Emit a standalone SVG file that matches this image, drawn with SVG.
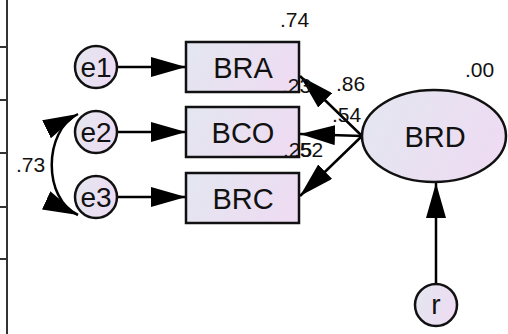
<svg xmlns="http://www.w3.org/2000/svg" width="508" height="334" viewBox="0 0 508 334">
<defs>
<linearGradient id="g" x1="0" y1="0" x2="1" y2="0.3">
<stop offset="0" stop-color="#e3e7f0"/>
<stop offset="1" stop-color="#eddcf2"/>
</linearGradient>
<marker id="ah" viewBox="0 0 35 20" refX="35" refY="10" markerWidth="35" markerHeight="20" markerUnits="userSpaceOnUse" orient="auto-start-reverse">
<path d="M0,0 L35,10 L0,20 z" fill="#000"/>
</marker>
<style>
.n{fill:url(#g);stroke:#111;stroke-width:2.5}
.t{font-family:"Liberation Sans",Arial,sans-serif;fill:#111;text-anchor:middle}
.big{font-size:29px}
.e{font-size:28px}
.l{font-family:"Liberation Sans",Arial,sans-serif;font-size:21px;fill:#111}
.c{stroke:#000;stroke-width:2.5;fill:none;marker-end:url(#ah)}
.frame{stroke:#333;stroke-width:2;fill:none}
</style>
</defs>
<g id="frame">
<path class="frame" d="M7 0 V334 M0 47 H7 M0 100 H7 M0 153 H7 M0 207 H7 M0 259 H7"/>
</g>
<g id="connectors">
<path class="c" d="M117 67 L186 67"/>
<path class="c" d="M117 132 L186 132"/>
<path class="c" d="M117 197 L186 197"/>
<path class="c" d="M362 136 L300 76"/>
<path class="c" d="M362 136 L300 134"/>
<path class="c" d="M362 136 L300 196"/>
<path class="c" d="M436 283 L436 183"/>
<path class="c" style="marker-start:url(#ah)" d="M78 114 C 43 131, 43 199, 78 215"/>
</g>
<g id="BRA"><rect class="n" x="186" y="42" width="113" height="50"/><text class="t big" x="243" y="78">BRA</text></g>
<g id="BCO"><rect class="n" x="186" y="107" width="113" height="50"/><text class="t big" x="243" y="143">BCO</text></g>
<g id="BRC"><rect class="n" x="186" y="173" width="113" height="50"/><text class="t big" x="243" y="209">BRC</text></g>
<g id="e1"><circle class="n" cx="96" cy="67" r="21"/><text class="t e" x="96" y="77">e1</text></g>
<g id="e2"><circle class="n" cx="96" cy="132" r="21"/><text class="t e" x="96" y="142">e2</text></g>
<g id="e3"><circle class="n" cx="96" cy="197" r="21"/><text class="t e" x="96" y="207">e3</text></g>
<g id="BRD"><ellipse class="n" cx="434" cy="136" rx="72" ry="46"/><text class="t big" x="435" y="147">BRD</text></g>
<g id="r"><circle class="n" cx="436" cy="305" r="21"/><text class="t e" x="436" y="314">r</text></g>
<g id="labels">
<text class="l" x="280" y="27">.74</text>
<text class="l" x="465" y="77">.00</text>
<text class="l" x="336" y="91">.86</text>
<text class="l" x="332" y="122">.54</text>
<text class="l" x="282" y="93">.23</text>
<text class="l" x="283" y="157">.25</text>
<text class="l" x="294" y="157">.52</text>
<text class="l" x="16" y="172">.73</text>
</g>
</svg>
